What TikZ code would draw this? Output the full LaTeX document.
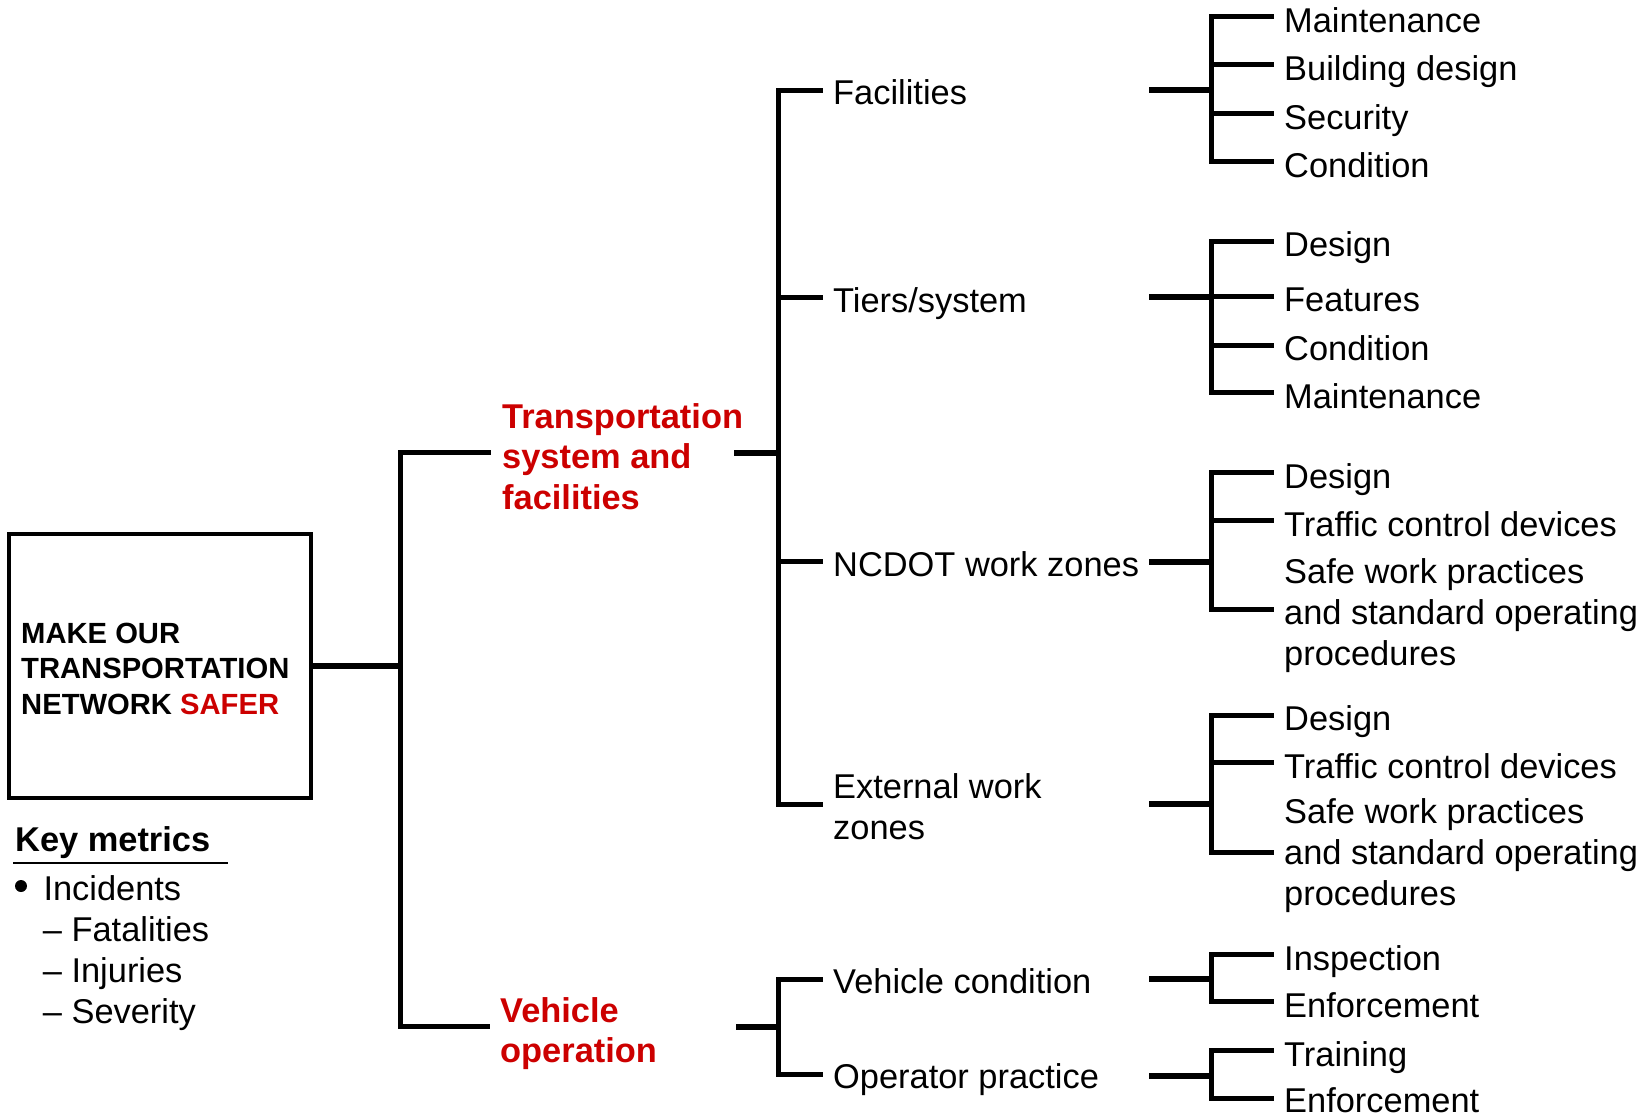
\documentclass[tikz,border=0pt]{standalone}
\usepackage{fontspec}
\setmainfont{Liberation Sans}
\definecolor{safered}{RGB}{204,0,0}
% multi-line label whose reference point is the first baseline
\newcommand{\stacked}[1]{\begin{tabular}[t]{@{}l@{}}#1\end{tabular}}
\begin{document}
\begin{tikzpicture}[x=1pt,y=-1pt,
  txt/.style={anchor=base west, inner sep=0pt, font=\fontsize{34.4}{41.3}\selectfont},
  head/.style={txt, text=safered, font=\fontsize{34.4}{40.5}\selectfont\bfseries},
  conn/.style={line width=5pt},
  trunk/.style={line width=5pt, line cap=rect},
  feed/.style={line width=6pt}]
\useasboundingbox (0,0) rectangle (1650,1116);

% ---- goal box ----
\node[draw, line width=4pt, minimum width=302pt, minimum height=264pt, inner sep=0pt] (goal) at (160,666) {};
\node[txt, font=\fontsize{29.2}{35.5}\selectfont\bfseries] (goaltxt) at (21,643)
  {\stacked{MAKE OUR\\TRANSPORTATION\\NETWORK \textcolor{safered}{SAFER}}};

% ---- key metrics ----
\node[txt, font=\fontsize{34.4}{41.3}\selectfont\bfseries] (km) at (15,851.7) {Key metrics};
\coordinate (ulA) at (13.3,863.3);
\coordinate (ulB) at (227.7,863.3);
\draw[line width=2.2pt] (ulA) -- (ulB);
\node[circle, fill, inner sep=0pt, minimum size=12pt] (bul) at (21,886) {};
\node[txt] (m1) at (43.3,900) {Incidents};
\node[txt] (m2) at (42.7,941) {\textendash\ Fatalities};
\node[txt] (m3) at (42.7,982) {\textendash\ Injuries};
\node[txt] (m4) at (42.7,1023) {\textendash\ Severity};

% ---- level 1 ----
\coordinate (j1)  at (400.5,666);
\coordinate (j1t) at (400.5,452.7);
\coordinate (j1b) at (400.5,1026.7);
\coordinate (e1t) at (491,452.7);
\coordinate (e1b) at (490,1026.7);
\draw[feed] (goal.east) -- (j1);
\draw[trunk] (j1t) -- (j1b);
\draw[conn] (j1t) -- (e1t);
\draw[conn] (j1b) -- (e1b);

\node[head] (tsf) at (502,428) {\stacked{Transportation\\system and\\facilities}};
\node[head] (vop) at (500,1022) {\stacked{Vehicle\\operation}};

% ---- level 2: transportation system and facilities ----
\coordinate (f2a) at (734,452.7);
\coordinate (j2a) at (778.3,452.7);
\draw[feed] (f2a) -- (j2a);
\coordinate (c2at) at (778.3,90.7);
\coordinate (c2ab) at (778.3,804);
\draw[trunk] (c2at) -- (c2ab);
\foreach \n/\y in {1/90.7, 2/297.3, 3/561.7, 4/804} {
  \coordinate (j2a\n) at (778.3,\y);
  \coordinate (e2a\n) at (823,\y);
  \draw[conn] (j2a\n) -- (e2a\n);
}
\node[txt] (fac) at (833,105)   {Facilities};
\node[txt] (tie) at (833,312.3) {Tiers/system};
\node[txt] (ncd) at (833,576.7) {NCDOT work zones};
\node[txt] (ext) at (833,798.3) {\stacked{External work\\zones}};

% ---- level 2: vehicle operation ----
\coordinate (f2b) at (736,1026.7);
\coordinate (j2b) at (778.3,1026.7);
\draw[feed] (f2b) -- (j2b);
\coordinate (c2bt) at (778.3,979.3);
\coordinate (c2bb) at (778.3,1074);
\draw[trunk] (c2bt) -- (c2bb);
\foreach \n/\y in {1/979.3, 2/1074} {
  \coordinate (j2b\n) at (778.3,\y);
  \coordinate (e2b\n) at (823,\y);
  \draw[conn] (j2b\n) -- (e2b\n);
}
\node[txt] (veh) at (833,993.3)  {Vehicle condition};
\node[txt] (opr) at (833,1088.3) {Operator practice};

% ---- level 3 ----
% group g: feeder height, first and last branch heights
\foreach \g/\fy/\ta/\tb in {1/90/16.7/161.7, 2/297/241.7/392.7, 3/561.7/472.3/609.3,
                             4/804/715/852.3, 5/979/954/1001.7, 6/1075.5/1050.7/1098.3} {
  \coordinate (f3s\g) at (1149.3,\fy);
  \coordinate (f3e\g) at (1211.5,\fy);
  \coordinate (v3t\g) at (1211.5,\ta);
  \coordinate (v3b\g) at (1211.5,\tb);
  \draw[feed] (f3s\g) -- (f3e\g);
  \draw[trunk] (v3t\g) -- (v3b\g);
}
\foreach \g/\n/\y/\b/\t in {
   1/1/16.7/32.7/Maintenance, 1/2/65/81/Building design, 1/3/113.3/129.3/Security, 1/4/161.7/177.7/Condition,
   2/1/241.7/256.7/Design, 2/2/296.5/311.7/Features, 2/3/345/360/Condition, 2/4/392.7/408.3/Maintenance,
   3/1/472.3/488.3/Design, 3/2/520/536/Traffic control devices,
   3/3/609.3/583.3/{\stacked{Safe work practices\\and standard operating\\procedures}},
   4/1/715/730/Design, 4/2/762.7/778.3/Traffic control devices,
   4/3/852.3/823.3/{\stacked{Safe work practices\\and standard operating\\procedures}},
   5/1/954/970/Inspection, 5/2/1001.7/1017.3/Enforcement,
   6/1/1050.7/1066.7/Training, 6/2/1098.3/1112.5/Enforcement} {
  \coordinate (j3\g\n) at (1211.5,\y);
  \coordinate (e3\g\n) at (1273.5,\y);
  \draw[conn] (j3\g\n) -- (e3\g\n);
  \node[txt] (t3\g\n) at (1284,\b) {\t};
}
\end{tikzpicture}
\end{document}
